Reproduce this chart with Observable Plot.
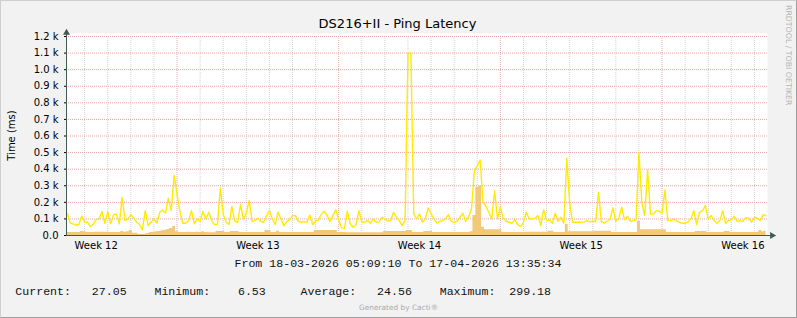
<!DOCTYPE html>
<html>
<head>
<meta charset="utf-8">
<script src="https://cdn.jsdelivr.net/npm/d3@7"></script>
<script src="https://cdn.jsdelivr.net/npm/@observablehq/plot@0.6"></script>
<style>
html, body { margin: 0; padding: 0; background: #f2f2f2; }
#card { position: relative; width: 797px; height: 318px; background: #f2f2f2; overflow: hidden; font-family: "DejaVu Sans", sans-serif; }
#card > svg { position: absolute; left: 0; top: 0; }
#edge { position: absolute; left: 0; top: 0; width: 797px; height: 318px; box-sizing: border-box;
  border-top: 1px solid #cfcfcf; border-left: 1px solid #cfcfcf; border-right: 1px solid #9e9e9e; border-bottom: 1px solid #9e9e9e; pointer-events: none; }
</style>
</head>
<body>
<div id="card"></div>
<script>
// ---------- data (3-hour samples starting 18-03-2026 06:00) ----------
const pingLine = [
  135,75,70,62,66,118,80,80,54,70,
  96,100,144,74,144,70,124,130,70,230,
  90,100,125,106,80,66,36,150,60,80,
  100,74,140,154,135,225,150,362,250,145,
  74,74,90,150,70,100,86,145,100,
  140,90,66,66,287,130,80,66,175,86,
  80,187,100,135,211,86,90,104,86,80,
  120,150,100,66,140,100,58,84,96,120,
  120,86,80,84,80,124,66,86,94,130,
  146,120,84,120,156,94,46,44,
  146,70,50,66,150,80,80,90,74,100,
  80,82,110,100,86,90,140,110,90,60,
  90,1100,1100,130,100,130,80,100,167,130,
  100,74,86,90,100,126,86,78,86,110,
  134,86,114,160,392,420,455,200,175,
  140,100,270,100,170,105,86,80,74,96,
  66,54,78,140,100,100,104,120,60,155,
  90,94,74,134,86,110,74,466,200,80,
  80,80,80,82,90,82,86,84,261,84,
  74,86,98,167,86,100,171,94,
  115,86,90,94,500,200,120,396,130,130,
  150,146,135,275,90,90,98,90,80,74,
  74,82,100,150,66,140,150,180,100,120,
  90,74,90,150,74,90,94,116,86,90,
  86,108,106,80,110,104,90,126,120
];
const pingArea = [
  18,18,18,18,18,24,22,18,18,18,
  20,20,20,20,20,18,18,18,18,24,
  20,22,30,14,14,8,6.53,8,12,18,
  20,22,24,28,32,36,42,54,22,18,
  18,18,20,18,18,20,18,22,18,
  16,16,16,24,24,24,18,18,24,24,
  24,18,18,18,18,18,18,18,18,18,
  30,30,18,18,26,18,18,18,18,18,
  18,18,18,18,18,18,18,30,30,30,
  30,30,30,30,30,18,18,18,
  16,16,16,16,16,16,16,16,16,16,
  16,16,16,24,24,24,24,24,24,24,
  24,30,30,18,18,18,18,24,24,24,
  18,18,18,18,18,18,18,18,18,18,
  18,18,18,22,120,290,299.18,50,34,
  34,34,34,34,34,18,18,18,18,18,
  18,18,18,20,20,20,20,20,20,20,
  20,26,26,18,18,18,18,66,22,22,
  22,22,22,22,22,22,22,26,26,26,
  26,26,26,18,18,18,18,18,
  18,18,18,18,85,34,34,34,34,34,
  34,34,34,34,18,18,18,18,18,18,
  18,18,18,18,24,24,24,24,18,18,
  18,18,18,18,24,24,18,18,18,18,
  18,18,18,18,18,18,30,22,27.05
];
const seriesStart = Date.UTC(2026, 2, 18, 6, 0, 0);
const stepHours = 3;

const rangeStart = new Date(Date.UTC(2026, 2, 18, 5, 9, 10));
const rangeEnd = new Date(Date.UTC(2026, 3, 17, 13, 35, 34));

const yTicks = [0, 100, 200, 300, 400, 500, 600, 700, 800, 900, 1000, 1100, 1200];
const yTickLabels = ["0.0", "0.1 k", "0.2 k", "0.3 k", "0.4 k", "0.5 k", "0.6 k", "0.7 k", "0.8 k", "0.9 k", "1.0 k", "1.1 k", "1.2 k"];
const weekCenters = ["2026-03-19T12:00:00Z", "2026-03-26T12:00:00Z", "2026-04-02T12:00:00Z", "2026-04-09T12:00:00Z", "2026-04-16T12:00:00Z"].map(s => new Date(s));
const weekLabels = ["Week 12", "Week 13", "Week 14", "Week 15", "Week 16"];

const titleText = "DS216+II - Ping Latency";
const yTitle = "Time (ms)";
const rangeText = "From 18-03-2026 05:09:10 To 17-04-2026 13:35:34";
const statNames = ["Current:", "Minimum:", "Average:", "Maximum:"];
const statValues = ["27.05", "6.53", "24.56", "299.18"];
const statGaps = ["    ", "     ", "    ", ""];
const watermark = "RRDTOOL / TOBI OETIKER";
const footer = "Generated by Cacti\u00AE";

// ---------- build ----------
const data = pingLine.map((v, i) => ({
  date: new Date(seriesStart + i * stepHours * 3600 * 1000),
  line: v,
  area: pingArea[i]
}));
const dayLines = d3.utcDay.range(d3.utcDay.ceil(rangeStart), rangeEnd).filter(d => d.getUTCDay() !== 1);
const weekLines = d3.utcMonday.range(rangeStart, rangeEnd);

const axisColor = "#3d5b52";
const majorGrid = "#eaa8a8";
const minorGrid = "#d2d2d2";
const xArrow = new Date(+rangeEnd + 0.2 * 86400000);
const yArrow = 1222;

const chart = Plot.plot({
  width: 797,
  height: 318,
  marginLeft: 66,
  marginRight: 30,
  marginTop: 36,
  marginBottom: 83,
  x: { type: "utc", domain: [rangeStart, rangeEnd] },
  y: { domain: [0, 1200] },
  style: { background: "transparent", fontFamily: "'DejaVu Sans', sans-serif", fontSize: "10px", color: "#000", overflow: "visible" },
  marks: [
    Plot.frame({ fill: "#ffffff", stroke: null, insetTop: -3 }),
    Plot.ruleX(dayLines, { stroke: minorGrid, strokeDasharray: "1,1" }),
    Plot.ruleY(yTicks.filter(d => d > 0), { stroke: majorGrid, strokeDasharray: "1,1" }),
    Plot.ruleX(weekLines, { stroke: majorGrid, strokeDasharray: "1,1" }),
    Plot.areaY(data, { x: "date", y: "area", fill: "#F2C879", curve: "step" }),
    Plot.lineY(data, { x: "date", y: "line", stroke: "#FFEA00", strokeWidth: 1.4, curve: "linear" }),
    Plot.ruleY([{ x1: rangeStart, x2: xArrow, y: 0 }], { x1: "x1", x2: "x2", y: "y", stroke: axisColor }),
    Plot.ruleX([{ x: rangeStart, y1: 0, y2: yArrow }], { x: "x", y1: "y1", y2: "y2", stroke: axisColor }),
    Plot.dot([{ x: xArrow, y: 0 }], { x: "x", y: "y", symbol: "triangle", r: 2.6, fill: axisColor, stroke: null, rotate: 90 }),
    Plot.dot([{ x: rangeStart, y: yArrow }], { x: "x", y: "y", symbol: "triangle", r: 2.6, fill: axisColor, stroke: null }),
    Plot.axisY({ ticks: yTicks, tickFormat: d => yTickLabels[yTicks.indexOf(d)], tickSize: 2, tickPadding: 6, label: null }),
    Plot.axisX({ ticks: weekCenters, tickFormat: d => weekLabels[weekCenters.findIndex(w => +w === +d)], tickSize: 0, tickPadding: 6, label: null })
  ]
});

const card = document.getElementById("card");
card.appendChild(chart);

// ---------- texts ----------
const overlay = d3.select(card).append("svg")
  .attr("width", 797).attr("height", 318)
  .style("pointer-events", "none")
  .attr("font-family", "'DejaVu Sans', sans-serif");

overlay.append("text").attr("x", 397.5).attr("y", 28).attr("text-anchor", "middle")
  .attr("font-size", 13).attr("fill", "#000").text(titleText);

overlay.append("text").attr("transform", "translate(14.5,135.5) rotate(-90)").attr("text-anchor", "middle")
  .attr("font-size", 10).attr("fill", "#000").text(yTitle);

overlay.append("text").attr("transform", "translate(785.5,5) rotate(90)")
  .attr("font-size", 7.8).attr("fill", "#b4b4b4").text(watermark);

overlay.append("text").attr("x", 398).attr("y", 267).attr("text-anchor", "middle")
  .attr("font-family", "'Liberation Mono', monospace").attr("font-size", 11.6).attr("fill", "#111")
  .style("white-space", "pre").text(rangeText);

const statLine = statNames.map((n, i) => n + statValues[i].padStart(8, " ") + statGaps[i]).join("");
overlay.append("text").attr("x", 15.3).attr("y", 295)
  .attr("font-family", "'Liberation Mono', monospace").attr("font-size", 11.6).attr("fill", "#111")
  .style("white-space", "pre").text(statLine);

overlay.append("text").attr("x", 398.5).attr("y", 310).attr("text-anchor", "middle")
  .attr("font-size", 7.4).attr("fill", "#aaaaaa").text(footer);

const edge = document.createElement("div");
edge.id = "edge";
card.appendChild(edge);
</script>
</body>
</html>
